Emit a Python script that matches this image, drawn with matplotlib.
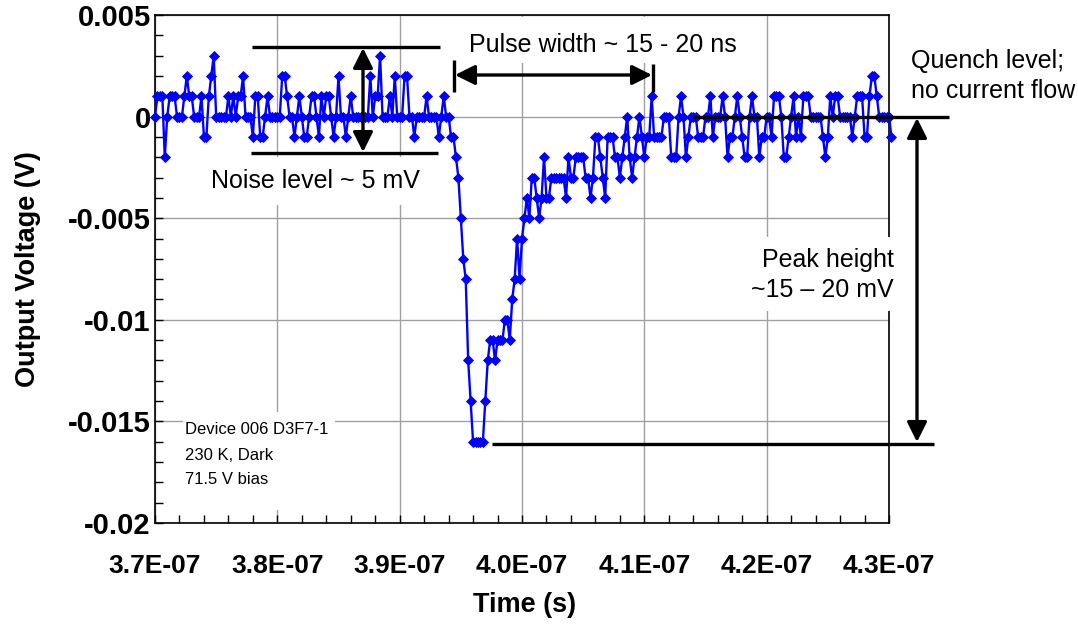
import numpy as np
import matplotlib
matplotlib.use('Agg')
import matplotlib.pyplot as plt
from matplotlib.lines import Line2D
from matplotlib.patches import FancyArrowPatch, Rectangle
from matplotlib.ticker import MultipleLocator, FuncFormatter

# scope trace (mV, one sample every 0.2 ns from 3.7E-07 s)
t_start = 3.70e-7
t_step = 0.2e-9
v_mV = [
    0, 1, 1, 1, -2, 0, 1, 1, 1, 0,
    0, 0, 1, 2, 1, 1, 0, 0, 0, 1,
    -1, -1, 1, 2, 3, 0, 0, 0, 0, 0,
    1, 0, 1, 0, 1, 1, 2, 0, 0, 0,
    -1, 1, 1, -1, -1, 0, 1, 0, 0, 0,
    0, 0, 2, 2, 1, 0, 0, -1, 0, 1,
    0, -1, -1, 0, 1, 1, 0, -1, 1, 0,
    1, 1, 0, -1, 0, 2, 0, 0, -1, 0,
    1, 0, 0, 0, 0, 0, 0, 0, 2, 0,
    1, 1, 3, 0, 0, 0, 1, 0, 2, 0,
    0, 0, 2, 2, 0, 0, -1, 0, 0, 0,
    0, 1, 0, 0, 0, 0, -1, 0, 1, 0,
    0, -1, -1, -2, -3, -5, -7, -8, -12, -14,
    -16, -16, -16, -16, -16, -14, -12, -11, -11, -12,
    -11, -11, -11, -10, -10, -11, -9, -8, -6, -8,
    -6, -5, -4, -5, -3, -3, -4, -5, -4, -2,
    -4, -4, -3, -3, -3, -3, -3, -3, -4, -2,
    -3, -3, -2, -2, -2, -2, -3, -3, -4, -3,
    -1, -1, -2, -3, -4, -1, -1, -1, -2, -2,
    -3, -2, -1, 0, -2, -3, -2, -1, 0, -1,
    -2, -1, -1, 1, -1, -1, -1, -1, 0, 0,
    0, -2, -2, -2, 0, 1, 0, -2, -1, 0,
    0, 0, -1, -1, -1, 0, 0, 1, -1, 0,
    0, 0, 1, 0, -2, -1, -1, 0, 1, 0,
    -1, -2, -2, 0, 1, 0, 0, -2, -1, -1,
    0, 0, -1, 1, 1, 1, 0, -2, -2, -1,
    0, 1, -1, 0, -1, 1, 1, 1, 0, 0,
    0, 0, 0, -1, -2, -1, 1, 0, 1, 1,
    0, 0, 0, 0, 0, -1, 0, 1, 1, 1,
    -1, -1, 1, 2, 2, 1, 0, 0, 0, 0,
    0, -1,
]

x_ticks = [3.7e-7, 3.8e-7, 3.9e-7, 4.0e-7, 4.1e-7, 4.2e-7, 4.3e-7]
y_ticks = [0.005, 0, -0.005, -0.01, -0.015, -0.02]

time = t_start + t_step * np.arange(len(v_mV))
volts = np.array(v_mV) / 1000.0

W, H = 1078, 624
plt.rcParams['font.family'] = ['Liberation Sans', 'DejaVu Sans']
fig = plt.figure(figsize=(W / 100, H / 100), dpi=100)
ax = fig.add_axes([155 / W, 1 - 523 / H, 734 / W, 508 / H])


def fx(px):
    return px / W


def fy(py):
    return 1 - py / H


ax.plot(time, volts, color='#0000ff', lw=1.7, marker='D', ms=5.2,
        mec='#0000ff', mew=0.6, clip_on=False, zorder=3)

ax.set_xlim(3.7e-7, 4.3e-7)
ax.set_ylim(-0.02, 0.005)
ax.set_xticks(x_ticks)
ax.set_yticks(y_ticks)
ax.xaxis.set_minor_locator(MultipleLocator(2e-9))
ax.yaxis.set_minor_locator(MultipleLocator(0.001))
ax.xaxis.set_major_formatter(FuncFormatter(lambda v, p: '%.1fE-07' % (v * 1e7)))
ax.yaxis.set_major_formatter(FuncFormatter(lambda v, p: '0' if abs(v) < 1e-12 else ('%g' % v)))
ax.grid(True, which='major', color='#a0a0a0', lw=1)
ax.tick_params(which='both', direction='in', length=6, width=1, colors='k')
ax.tick_params(axis='x', which='major', pad=22)
ax.tick_params(axis='y', which='major', pad=3)
for lab in ax.get_xticklabels():
    lab.set_fontsize(19)
    lab.set_fontweight('bold')
for lab in ax.get_yticklabels():
    lab.set_fontsize(21)
    lab.set_fontweight('bold')
for s in ax.spines.values():
    s.set_color('k')
    s.set_linewidth(1.2)

ax.set_xlabel('Time (s)', fontsize=19.5, fontweight='bold', va='center')
ax.set_ylabel('Output Voltage (V)', fontsize=19.5, fontweight='bold', va='center')
ax.xaxis.set_label_coords(0.504, (523 - 605) / 508)
ax.yaxis.set_label_coords((28 - 155) / 734, 0.5)

# white text boxes (they hide grid lines and the frame behind them)
for (x0, y0, x1, y1) in [(460, 17, 745, 63), (205, 157, 425, 205),
                         (183, 412, 335, 510), (752, 237, 905, 311)]:
    fig.add_artist(Rectangle((fx(x0), fy(y1)), fx(x1) - fx(x0), fy(y0) - fy(y1),
                             transform=fig.transFigure, facecolor='white',
                             edgecolor='none', zorder=2))


def hline(x0, x1, y, lw=2.4):
    fig.add_artist(Line2D([fx(x0), fx(x1)], [fy(y), fy(y)], transform=fig.transFigure,
                          color='k', lw=lw, zorder=3, solid_capstyle='butt'))


def vline(x, y0, y1, lw=2.4):
    fig.add_artist(Line2D([fx(x), fx(x)], [fy(y0), fy(y1)], transform=fig.transFigure,
                          color='k', lw=lw, zorder=3, solid_capstyle='butt'))


def arrow(p0, p1):
    fig.add_artist(FancyArrowPatch((fx(p0[0]), fy(p0[1])), (fx(p1[0]), fy(p1[1])),
                                   transform=fig.transFigure, arrowstyle='<|-|>',
                                   mutation_scale=30, lw=2.4, color='k',
                                   shrinkA=0, shrinkB=0, zorder=3))


# noise level
hline(252, 440, 47)
hline(251, 438, 153)
arrow((363, 48), (363, 152))
# pulse width
vline(454, 60, 92)
vline(653, 64, 92)
arrow((455, 75), (652, 75))
# quench level and peak height
hline(693, 949, 117)
hline(492, 934, 444)
arrow((917, 118), (917, 442))

txt = dict(fontsize=18, color='k', zorder=4, va='center')
fig.text(fx(469), fy(45), 'Pulse width ~ 15 - 20 ns', ha='left', **txt)
fig.text(fx(211), fy(181), 'Noise level ~ 5 mV', ha='left', **txt)
fig.text(fx(911), fy(61), 'Quench level;', ha='left', **txt)
fig.text(fx(911), fy(91), 'no current flow', ha='left', **txt)
fig.text(fx(894), fy(260), 'Peak height', ha='right', **txt)
fig.text(fx(894), fy(290), '~15 \u2013 20 mV', ha='right', **txt)
small = dict(fontsize=12, color='k', zorder=4, va='center', ha='left')
fig.text(fx(185), fy(430), 'Device 006 D3F7-1', **small)
fig.text(fx(185), fy(455), '230 K, Dark', **small)
fig.text(fx(185), fy(480), '71.5 V bias', **small)

fig.savefig('out.png', dpi=100)
